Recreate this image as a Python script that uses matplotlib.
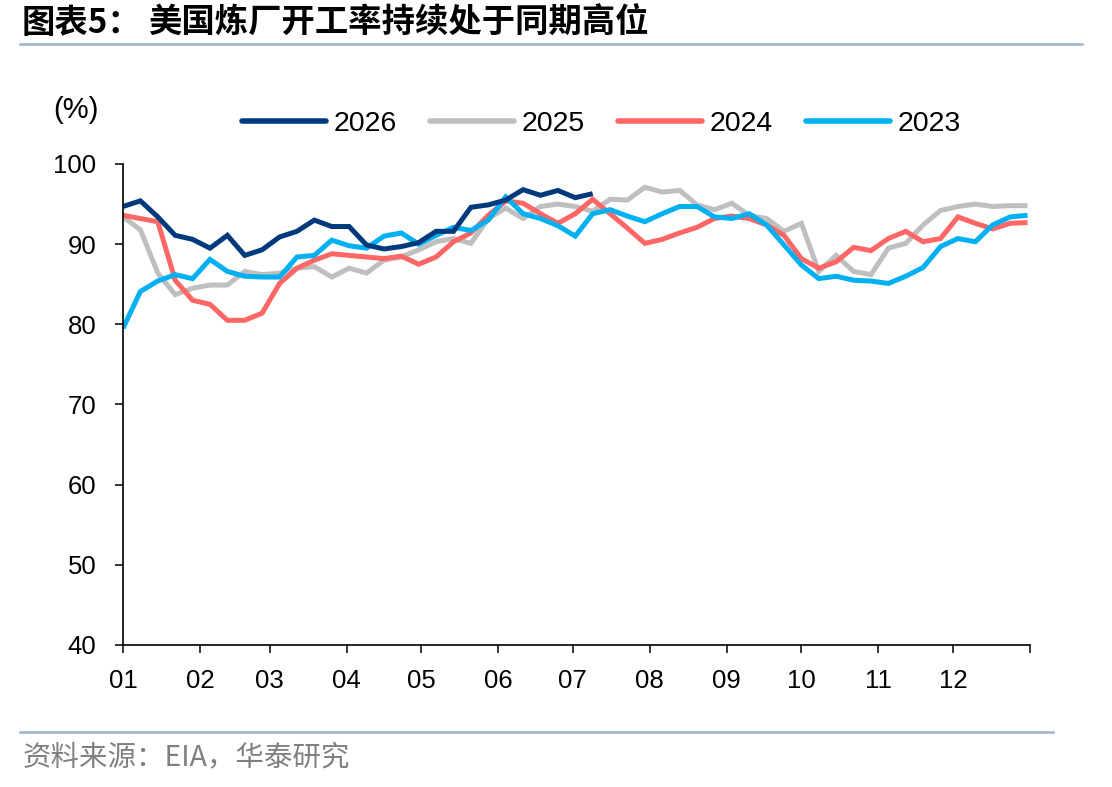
import matplotlib
matplotlib.use("Agg")
import matplotlib.pyplot as plt
from matplotlib.lines import Line2D
import numpy as np

# ---- data ----
month_labels = ["01", "02", "03", "04", "05", "06", "07", "08", "09", "10", "11", "12"]
month_start_days = [0, 31, 59, 90, 120, 151, 181, 212, 243, 273, 304, 334, 365]
week_days = list(range(0, 365, 7))  # weekly observations (day of year)

y2026 = [94.7, 95.4, 93.4, 91.1, 90.6, 89.5, 91.1, 88.6, 89.3, 90.9,
         91.6, 93.0, 92.2, 92.2, 89.9, 89.4, 89.7, 90.2, 91.6, 91.6,
         94.6, 94.9, 95.5, 96.8, 96.1, 96.7, 95.8, 96.3]
y2025 = [93.4, 91.8, 86.4, 83.7, 84.5, 84.9, 84.9, 86.6, 86.2, 86.4,
         87.0, 87.2, 85.9, 87.0, 86.4, 88.0, 88.4, 89.3, 90.3, 90.7,
         90.1, 93.2, 94.5, 93.2, 94.7, 95.0, 94.7, 94.1, 95.6, 95.5,
         97.1, 96.5, 96.7, 94.9, 94.3, 95.1, 93.6, 93.2, 91.6, 92.6,
         86.6, 88.6, 86.6, 86.2, 89.5, 90.1, 92.4, 94.2, 94.7, 95.0,
         94.7, 94.8, 94.8]
y2024 = [93.6, 93.2, 92.8, 85.5, 83.0, 82.5, 80.5, 80.5, 81.4, 85.1,
         87.0, 88.0, 88.8, 88.6, 88.4, 88.2, 88.5, 87.5, 88.4, 90.3,
         91.4, 93.6, 95.4, 95.1, 93.8, 92.6, 93.8, 95.6, 93.8, 92.0,
         90.1, 90.6, 91.4, 92.1, 93.2, 93.5, 93.2, 92.4, 91.1, 88.2,
         87.0, 87.8, 89.6, 89.2, 90.7, 91.6, 90.3, 90.7, 93.4, 92.6,
         91.9, 92.6, 92.7]
y2023 = [79.5, 84.1, 85.4, 86.2, 85.7, 88.1, 86.6, 86.0, 85.9, 85.9,
         88.4, 88.6, 90.5, 89.8, 89.5, 91.0, 91.4, 90.0, 91.1, 92.1,
         91.7, 93.0, 95.9, 93.8, 93.2, 92.3, 91.0, 93.8, 94.3, 93.5,
         92.8, 93.8, 94.7, 94.7, 93.4, 93.2, 93.8, 92.4, 89.9, 87.4,
         85.7, 86.0, 85.5, 85.4, 85.1, 86.0, 87.1, 89.7, 90.7, 90.3,
         92.4, 93.4, 93.6]

series_names = ["2026", "2025", "2024", "2023"]
series_colors = ["#003a7d", "#bfbfbf", "#ff6666", "#00b0f0"]

title_prefix = "图表5："
title_text = "美国炼厂开工率持续处于同期高位"
source_text = "资料来源：EIA，华泰研究"

# ---- figure ----
plt.rcParams['font.family'] = ['Liberation Sans', 'Noto Sans CJK SC', 'DejaVu Sans']
W, H = 1112, 787
fig = plt.figure(figsize=(W / 100, H / 100), dpi=100)
ax = fig.add_axes([123 / W, 1 - 645 / H, 907 / W, 481 / H])

series = {"2026": y2026, "2025": y2025, "2024": y2024, "2023": y2023}
color_of = dict(zip(series_names, series_colors))
draw_order = ["2025", "2024", "2023", "2026"]
for name in draw_order:
    vals = series[name]
    ax.plot(week_days[:len(vals)], vals, color=color_of[name], lw=3.6,
            solid_joinstyle='miter', solid_capstyle='butt', label=name)

ax.set_xlim(0, 365)
ax.set_ylim(40, 100)
ax.set_yticks(range(40, 101, 10))
ax.set_xticks(month_start_days)
ax.set_xticklabels(month_labels + [""])
for s in ["top", "right"]:
    ax.spines[s].set_visible(False)
for s in ["left", "bottom"]:
    ax.spines[s].set_linewidth(1.2)
    ax.spines[s].set_color("black")
ax.tick_params(axis='both', direction='out', length=6, width=1.1, labelsize=18.5,
               colors='black')
ax.tick_params(axis='y', pad=13)
ax.tick_params(axis='x', pad=11)

leg_handles = [Line2D([0], [0], color=color_of[n], lw=4, solid_capstyle='round')
               for n in series_names]
ax.legend(leg_handles, series_names, ncol=4, frameon=False, fontsize=20.5,
          loc='center left', bbox_to_anchor=((242 - 123) / 907, (645 - 124) / 481),
          borderpad=0, borderaxespad=0, handlelength=2.95, handletextpad=0.28,
          columnspacing=1.15)

fig.text(53 / W, 1 - 110 / H, "(%)", fontsize=21, ha='left', va='center')

# title
fig.text(22 / W, 1 - 23 / H, title_prefix, fontsize=24, fontweight='bold',
         family=['Noto Sans CJK SC', 'DejaVu Sans'], ha='left', va='center')
fig.text(148 / W, 1 - 23 / H, title_text, fontsize=24, fontweight='bold',
         family=['Noto Sans CJK SC', 'DejaVu Sans'], ha='left', va='center')
fig.add_artist(Line2D([20 / W, 1082 / W], [1 - 44 / H] * 2, color="#9cb2cd", lw=1.8))

# source
fig.add_artist(Line2D([20 / W, 1053 / W], [1 - 732 / H] * 2, color="#9cb2cd", lw=1.8))
fig.text(23 / W, 1 - 757 / H, source_text, fontsize=20.5, color="#808080",
         family=['Noto Sans CJK SC', 'DejaVu Sans'], fontweight='light',
         ha='left', va='center')

fig.savefig("out.png", dpi=100)
